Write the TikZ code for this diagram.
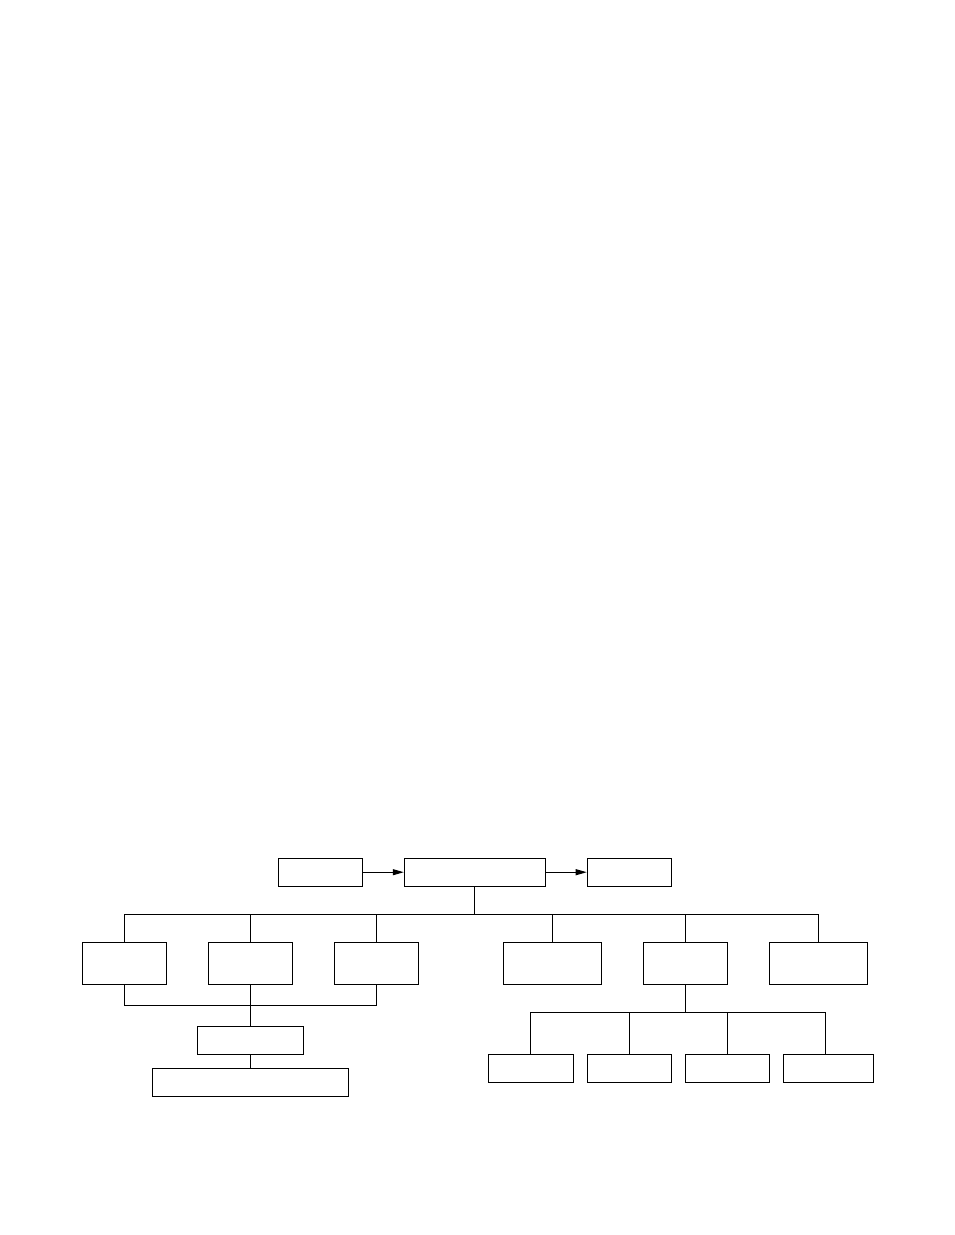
\documentclass[tikz,border=0pt]{standalone}
\usetikzlibrary{arrows.meta}
\begin{document}
\begin{tikzpicture}[x=1pt,y=-1pt,
  box/.style={draw, line width=1pt, inner sep=0pt, minimum height=28pt},
  tall/.style={box, minimum height=42pt},
  conn/.style={line width=1pt},
  arr/.style={line width=1pt, -{Triangle[length=11pt,width=6pt]}}]
\useasboundingbox (0,0) rectangle (954,1235);
% top row
\node[box, minimum width=84pt] (A) at (320.3,872.2) {};
\node[box, minimum width=141pt] (B) at (474.8,872.2) {};
\node[box, minimum width=84pt] (C) at (629.2,872.2) {};
% second row
\node[tall, minimum width=84pt] (L1) at (124.3,963.2) {};
\node[tall, minimum width=84pt] (L2) at (250.3,963.2) {};
\node[tall, minimum width=84pt] (L3) at (376.3,963.2) {};
\node[tall, minimum width=98pt] (R1) at (552.3,963.2) {};
\node[tall, minimum width=84pt] (R2) at (685.3,963.2) {};
\node[tall, minimum width=98pt] (R3) at (818.8,963.2) {};
% lower left
\node[box, minimum width=106pt] (D) at (250.3,1040.3) {};
\node[box, minimum width=196pt] (E) at (250.3,1082.3) {};
% lower right
\node[box, minimum width=85pt] (b1) at (530.8,1068.3) {};
\node[box, minimum width=84pt] (b2) at (629.3,1068.3) {};
\node[box, minimum width=84pt] (b3) at (727.3,1068.3) {};
\node[box, minimum width=90pt] (b4) at (828.3,1068.3) {};
% coordinates
\coordinate (t) at (474.8,914);
\coordinate (m) at (250.3,1005);
\coordinate (r) at (685.3,1012);
\coordinate (b4t) at (825.3,1054.3);
% arrows
\draw[arr] (A) -- (B);
\draw[arr] (B) -- (C);
% top bus
\draw[conn] (B.south) -- (t);
\draw[conn] (L1.north) -- (L1.north |- t) -- (R3.north |- t) -- (R3.north);
\draw[conn] (L2.north) -- (L2.north |- t);
\draw[conn] (L3.north) -- (L3.north |- t);
\draw[conn] (R1.north) -- (R1.north |- t);
\draw[conn] (R2.north) -- (R2.north |- t);
% lower left bus
\draw[conn] (L1.south) -- (L1.south |- m) -- (L3.south |- m) -- (L3.south);
\draw[conn] (L2.south) -- (D.north);
\draw[conn] (D.south) -- (E.north);
% lower right bus
\draw[conn] (R2.south) -- (r);
\draw[conn] (b1.north) -- (b1.north |- r) -- (b4t |- r) -- (b4t);
\draw[conn] (b2.north) -- (b2.north |- r);
\draw[conn] (b3.north) -- (b3.north |- r);
\end{tikzpicture}
\end{document}
